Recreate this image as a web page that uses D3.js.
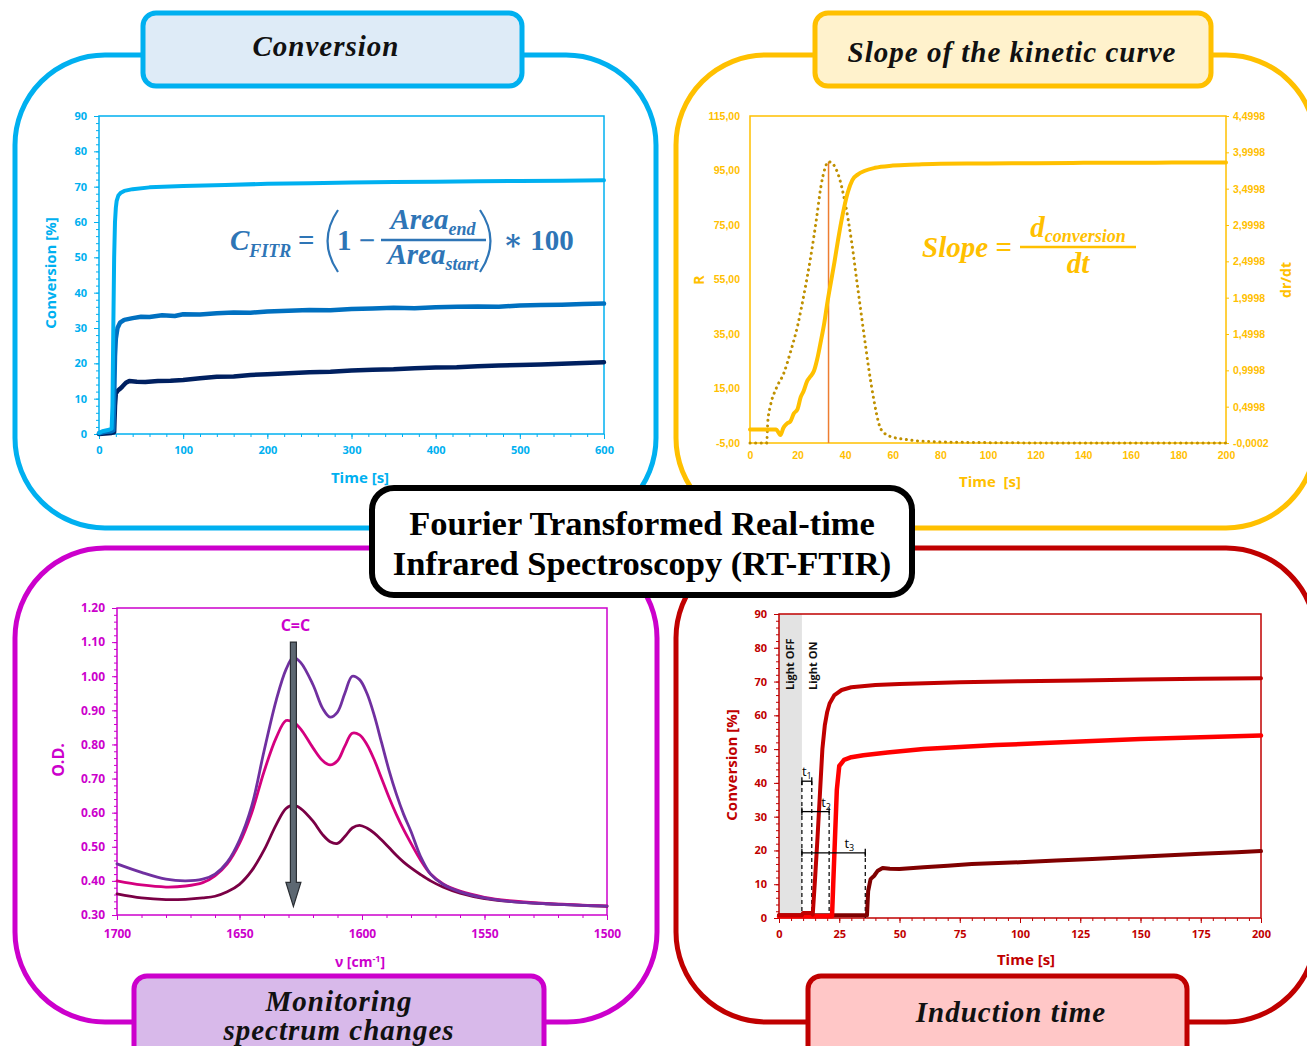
<!DOCTYPE html>
<html>
<head>
<meta charset="utf-8">
<script src="https://cdn.jsdelivr.net/npm/d3@7"></script>
<style>
  body { margin: 0; background: #fff; }
  svg { display: block; }
</style>
</head>
<body>
<div id="chart"></div>
<script>
// ---------- values ----------

// Conversion panel: [time s, conversion %]
var convHigh = [[0,0.3],[4,0.8],[8,1],[12,1.2],[15,1.5],[16,8],[17,30],[18,50],[19,60],[20,64],[21,66],[23,67.5],[26,68.3],[30,68.8],[40,69.3],[60,69.8],[100,70.2],[150,70.5],[200,70.8],[250,71],[300,71.2],[350,71.3],[400,71.4],[450,71.5],[500,71.6],[550,71.7],[600,71.8]];
var convMid = [[0,0.2],[8,0.6],[15,0.8],[17,1],[18,10],[19,22],[20,27],[22,30],[25,31.5],[30,32.3],[40,32.8],[50,33.2],[60,33.1],[75,33.6],[90,33.4],[100,33.9],[120,33.8],[140,34.2],[160,34.4],[180,34.3],[200,34.7],[225,34.9],[250,35.1],[275,35],[300,35.4],[325,35.5],[350,35.7],[375,35.6],[400,35.9],[425,36],[450,36.1],[475,36],[500,36.4],[525,36.5],[550,36.6],[575,36.8],[600,36.9]];
var convLow = [[0,0],[15,0.3],[18,0.5],[19,8],[20,11.5],[22,12.2],[25,12.8],[28,13.5],[32,14.5],[36,15],[45,14.8],[55,14.7],[70,15],[85,15.1],[100,15.3],[120,15.8],[140,16.2],[160,16.3],[180,16.7],[200,16.9],[225,17.2],[250,17.5],[275,17.6],[300,18],[325,18.2],[350,18.3],[375,18.6],[400,18.8],[425,18.9],[450,19.2],[475,19.4],[500,19.5],[525,19.7],[550,19.9],[575,20.1],[600,20.3]];
var convXTicks = [0,100,200,300,400,500,600];
var convYTicks = [0,10,20,30,40,50,60,70,80,90];

// Slope panel: [time s, R] and [time s, dr/dt]
var slopeR = [[0,0],[11,0],[12,-1.2],[12.8,-2.1],[14,0.5],[15.6,2.2],[17,3],[18.4,5.8],[20,7.5],[21.3,11.8],[22.5,14],[24.1,17.9],[25.5,19.5],[26.9,21.5],[28.3,26],[29.8,32.5],[31.2,39],[32.6,47],[34,54],[35.5,61.5],[36.9,69],[38.3,76],[39.7,82],[41.1,87],[43,91.5],[45.4,93.6],[48,94.8],[52.5,96],[60,96.8],[70,97.2],[80,97.5],[100,97.6],[120,97.7],[140,97.8],[160,97.8],[180,97.9],[200,97.9]];
var slopeRate = [[0,0],[7,0],[7.5,0.3],[8.5,0.5],[11,0.75],[14.2,0.96],[17,1.25],[19.9,1.6],[23,2.1],[25.5,2.56],[28,3.1],[29.8,3.53],[31.5,3.78],[32.9,3.87],[34.5,3.85],[36.9,3.71],[40,3.3],[42.6,2.79],[45,2.2],[48.2,1.42],[50,1.0],[52,0.6],[54.6,0.22],[57,0.12],[60,0.08],[65,0.05],[70,0.03],[80,0.015],[100,0.005],[130,0],[200,0]];
var slopePeakTime = 33;
var slopeXTicks = [0,20,40,60,80,100,120,140,160,180,200];
var slopeYTicks = [-5,15,35,55,75,95,115];
var slopeY2Ticks = [-0.0002,0.4998,0.9998,1.4998,1.9998,2.4998,2.9998,3.4998,3.9998,4.4998];

// Spectrum panel: wavenumber [cm-1] and optical density of three spectra
var specNu = [1700,1690,1680,1672,1665,1660,1655,1650,1645,1640,1635,1631,1628,1625,1620,1616,1613,1610,1607,1604,1601,1598,1595,1592,1589,1586,1583,1580,1576,1572,1567,1560,1550,1540,1525,1510,1500];
var specA = [.450,.425,.405,.400,.405,.420,.455,.520,.620,.780,.930,1.020,1.055,1.040,.975,.905,.880,.895,.950,1.000,.990,.950,.885,.805,.725,.655,.595,.545,.470,.420,.390,.368,.350,.340,.333,.328,.326];
var specB = [.400,.388,.382,.385,.395,.415,.450,.510,.600,.720,.820,.870,.865,.845,.790,.752,.740,.752,.795,.833,.828,.800,.755,.700,.645,.595,.550,.510,.460,.420,.392,.370,.352,.342,.334,.329,.327];
var specC = [.362,.350,.345,.346,.350,.355,.368,.390,.430,.490,.565,.612,.622,.612,.575,.535,.515,.510,.530,.555,.563,.555,.540,.520,.498,.475,.455,.438,.418,.400,.382,.364,.348,.340,.333,.328,.325];
var specXTicks = [1700,1650,1600,1550,1500];
var specYTicks = [0.30,0.40,0.50,0.60,0.70,0.80,0.90,1.00,1.10,1.20];
var specArrowNu = 1628;
var specArrowOD = [1.10, 0.325];

// Induction time panel: [time s, conversion %]
var indFast = [[0,0.8],[9.5,0.8],[10,1.5],[13.5,1.5],[14,1],[15,12],[16,24],[17,37],[18,50],[19,57],[20,61],[21,63.5],[23,66],[26,67.5],[30,68.3],[40,69],[50,69.3],[75,69.8],[100,70.1],[125,70.3],[150,70.6],[175,70.8],[200,71]];
var indMid = [[0,0.5],[13,0.5],[22,0.5],[22.5,10],[23.3,25],[24,38],[25,45],[27,46.8],[30,47.6],[35,48.2],[45,49],[60,50],[75,50.6],[90,51.2],[110,51.8],[130,52.4],[150,53],[175,53.5],[200,54]];
var indSlow = [[0,0.8],[36.5,0.8],[37,8],[38,11.5],[39.5,12.5],[41,14],[43,14.8],[46,14.6],[50,14.5],[60,15],[70,15.5],[80,16],[100,16.5],[115,17],[130,17.5],[145,18],[160,18.5],[175,19],[190,19.5],[200,19.8]];
var indLightOff = 9.5;
var indMarks = [{name:"1", end:13.6, level:40.5}, {name:"2", end:20.8, level:31.5}, {name:"3", end:35.8, level:19.3}];
var indXTicks = [0,25,50,75,100,125,150,175,200];
var indYTicks = [0,10,20,30,40,50,60,70,80,90];

// ---------- drawing ----------
var W = 1307, H = 1046;
var BLUE = "#00b0f0", GOLD = "#ffc000", MAG = "#cc00cc", RED = "#c00000";
var SANS = "'Open Sans', 'Liberation Sans', sans-serif";
var SERIF = "'Liberation Serif', 'DejaVu Serif', serif";

var svg = d3.select("#chart").append("svg").attr("width", W).attr("height", H);

function frame(x, y, w, h, color) {
  svg.append("rect").attr("x", x).attr("y", y).attr("width", w).attr("height", h)
    .attr("rx", 90).attr("ry", 90).attr("fill", "none")
    .attr("stroke", color).attr("stroke-width", 5);
}
frame(15, 55, 641, 473, BLUE);
frame(676, 55, 640, 473, GOLD);
frame(15, 548, 642, 474, MAG);
frame(676, 548, 640, 474, RED);

function drawAxis(axis, translate, color, fs, font) {
  var a = svg.append("g").attr("transform", translate).call(axis);
  a.select(".domain").remove();
  a.selectAll(".tick line").attr("stroke", color);
  a.selectAll(".tick text").attr("fill", color).style("font-family", font || SANS)
    .style("font-weight", 700).style("font-size", fs + "px");
  return a;
}

function plotBox(x, y, color) {
  var xr = x.range(), yr = y.range();
  svg.append("rect").attr("x", Math.min(xr[0], xr[1])).attr("y", Math.min(yr[0], yr[1]))
    .attr("width", Math.abs(xr[1] - xr[0])).attr("height", Math.abs(yr[1] - yr[0]))
    .attr("fill", "none").attr("stroke", color).attr("stroke-width", 1.5);
}

function drawLine(data, x, y, color, width, curve) {
  return svg.append("path").datum(data)
    .attr("fill", "none").attr("stroke", color).attr("stroke-width", width)
    .attr("stroke-linejoin", "round").attr("stroke-linecap", "round")
    .attr("d", d3.line().x(function(d) { return x(d[0]); }).y(function(d) { return y(d[1]); })
      .curve(curve || d3.curveLinear));
}

function label(x, y, txt, color, fs, rot) {
  var t = svg.append("text").attr("x", x).attr("y", y).attr("fill", color)
    .attr("text-anchor", "middle").style("font-family", SANS).style("font-weight", 700)
    .style("font-size", fs + "px").text(txt);
  if (rot) t.attr("transform", "rotate(-90," + x + "," + y + ")");
  return t;
}

// tall thin bracket drawn as a curve, open side given by dir (+1 = "(", -1 = ")")
function paren(g, x, y0, y1, dir, color) {
  var bulge = 11 * dir;
  g.append("path")
    .attr("d", "M" + (x + bulge) + "," + y0 + "Q" + (x - bulge * 0.9) + "," + ((y0 + y1) / 2) + " " + (x + bulge) + "," + y1)
    .attr("fill", "none").attr("stroke", color).attr("stroke-width", 2.2);
}

// ===== Conversion (top-left) =====
var xC = d3.scaleLinear().domain([0, 600]).range([99, 604]);
var yC = d3.scaleLinear().domain([0, 90]).range([434, 116]);
drawAxis(d3.axisLeft(yC).tickValues(d3.range(0, 91, 2)).tickSize(3).tickFormat(""), "translate(99,0)", BLUE, 11);
drawAxis(d3.axisBottom(xC).tickValues(d3.range(0, 601, 20)).tickSize(3).tickFormat(""), "translate(0,434)", BLUE, 11);
drawAxis(d3.axisLeft(yC).tickValues(convYTicks).tickSize(5).tickPadding(7), "translate(99,0)", BLUE, 11);
drawAxis(d3.axisBottom(xC).tickValues(convXTicks).tickSize(5).tickPadding(7), "translate(0,434)", BLUE, 11);
plotBox(xC, yC, BLUE);
drawLine(convLow, xC, yC, "#002060", 4.5);
drawLine(convMid, xC, yC, "#0070c0", 4.5);
drawLine(convHigh, xC, yC, BLUE, 4);
label(56, 273, "Conversion [%]", BLUE, 15, true);
label(360, 483, "Time [s]", BLUE, 15);

var FBLUE = "#2e75b6";
var f1 = svg.append("g").attr("fill", FBLUE).style("font-family", SERIF).style("font-weight", 700);
var c1 = f1.append("text").attr("x", 230).attr("y", 250).style("font-size", "29px").style("font-style", "italic").text("C");
c1.append("tspan").attr("dy", 7).style("font-size", "18px").text("FITR");
f1.append("text").attr("x", 298).attr("y", 250).style("font-size", "29px").text("=");
paren(f1, 327, 210, 272, 1, FBLUE);
f1.append("text").attr("x", 337).attr("y", 250).style("font-size", "29px").text("1 \u2212");
f1.append("line").attr("x1", 381).attr("x2", 486).attr("y1", 240).attr("y2", 240).attr("stroke", FBLUE).attr("stroke-width", 2.5);
var an = f1.append("text").attr("x", 433).attr("y", 229).attr("text-anchor", "middle").style("font-size", "29px").style("font-style", "italic").text("Area");
an.append("tspan").attr("dy", 6).style("font-size", "18px").text("end");
var as = f1.append("text").attr("x", 433).attr("y", 264).attr("text-anchor", "middle").style("font-size", "29px").style("font-style", "italic").text("Area");
as.append("tspan").attr("dy", 6).style("font-size", "18px").text("start");
paren(f1, 491, 210, 272, -1, FBLUE);
f1.append("text").attr("x", 503).attr("y", 250).style("font-size", "29px").text("\u2217 100");

// ===== Slope of the kinetic curve (top-right) =====
var xS = d3.scaleLinear().domain([0, 200]).range([750, 1226]);
var yS = d3.scaleLinear().domain([-5, 115]).range([443, 116]);
var yS2 = d3.scaleLinear().domain([-0.0002, 4.4998]).range([443, 116]);
var comma = function(n) { return function(d) { return d.toFixed(n).replace(".", ","); }; };
var NARROW = "'Liberation Sans Narrow', 'Liberation Sans', sans-serif";
drawAxis(d3.axisLeft(yS).tickValues(slopeYTicks).tickSize(0).tickPadding(10).tickFormat(comma(2)), "translate(750,0)", GOLD, 10.5, NARROW);
drawAxis(d3.axisRight(yS2).tickValues(slopeY2Ticks).tickSize(3).tickPadding(4).tickFormat(comma(4)), "translate(1226,0)", GOLD, 10.5, NARROW);
drawAxis(d3.axisBottom(xS).tickValues(slopeXTicks).tickSize(0).tickPadding(9), "translate(0,443)", GOLD, 10.5, NARROW);
plotBox(xS, yS, GOLD);
svg.append("line").attr("x1", xS(slopePeakTime)).attr("x2", xS(slopePeakTime))
  .attr("y1", yS(-5)).attr("y2", yS2(d3.max(slopeRate, function(d) { return d[1]; })))
  .attr("stroke", "#ed7d31").attr("stroke-width", 1.5);
drawLine(slopeRate, xS, yS2, "#bf9000", 3, d3.curveMonotoneX).attr("stroke-dasharray", "0.1 5.5");
drawLine(slopeR, xS, yS, GOLD, 4, d3.curveMonotoneX);
label(704, 280, "R", GOLD, 14, true);
label(1291, 280, "dr/dt", GOLD, 14, true);
label(990, 487, "Time  [s]", GOLD, 15).style("white-space", "pre");

var f2 = svg.append("g").attr("fill", GOLD).style("font-family", SERIF).style("font-weight", 700).style("font-style", "italic");
f2.append("text").attr("x", 922).attr("y", 257).style("font-size", "29px").text("Slope =");
f2.append("line").attr("x1", 1020).attr("x2", 1136).attr("y1", 247).attr("y2", 247).attr("stroke", GOLD).attr("stroke-width", 2.5);
var dc = f2.append("text").attr("x", 1078).attr("y", 237).attr("text-anchor", "middle").style("font-size", "29px").text("d");
dc.append("tspan").attr("dy", 5).style("font-size", "18px").text("conversion");
f2.append("text").attr("x", 1078).attr("y", 273).attr("text-anchor", "middle").style("font-size", "29px").text("dt");

// ===== Monitoring spectrum changes (bottom-left) =====
var xP = d3.scaleLinear().domain([1700, 1500]).range([117, 607]);
var yP = d3.scaleLinear().domain([0.30, 1.20]).range([915, 608]);
drawAxis(d3.axisLeft(yP).tickValues(d3.range(30, 121, 2).map(function(v) { return v / 100; })).tickSize(3).tickFormat(""), "translate(117,0)", MAG, 12);
drawAxis(d3.axisBottom(xP).tickValues(d3.range(1500, 1701, 10)).tickSize(3).tickFormat(""), "translate(0,915)", MAG, 12);
drawAxis(d3.axisLeft(yP).tickValues(specYTicks).tickSize(5).tickPadding(7).tickFormat(d3.format(".2f")), "translate(117,0)", MAG, 12);
drawAxis(d3.axisBottom(xP).tickValues(specXTicks).tickSize(5).tickPadding(9).tickFormat(d3.format("d")), "translate(0,915)", MAG, 12);
plotBox(xP, yP, MAG);
drawLine(d3.zip(specNu, specC), xP, yP, "#7a0045", 2.8, d3.curveCatmullRom);
drawLine(d3.zip(specNu, specB), xP, yP, "#d4007f", 2.8, d3.curveCatmullRom);
drawLine(d3.zip(specNu, specA), xP, yP, "#7030a0", 2.8, d3.curveCatmullRom);

var ax = xP(specArrowNu), ay0 = yP(specArrowOD[0]), ay1 = yP(specArrowOD[1]);
svg.append("path")
  .attr("d", "M" + (ax - 3) + "," + ay0 + "L" + (ax + 3) + "," + ay0 + "L" + (ax + 3) + "," + (ay1 - 24) +
    "L" + (ax + 7.5) + "," + (ay1 - 24) + "L" + ax + "," + ay1 + "L" + (ax - 7.5) + "," + (ay1 - 24) +
    "L" + (ax - 3) + "," + (ay1 - 24) + "Z")
  .attr("fill", "#5d6872").attr("stroke", "#2a2e33").attr("stroke-width", 1.2);
label(ax + 2, 631, "C=C", MAG, 16);
label(64, 760, "O.D.", MAG, 16, true);
var nuLab = label(360, 967, "\u03bd [cm", MAG, 14);
nuLab.append("tspan").attr("dy", -5).style("font-size", "9px").text("-1");
nuLab.append("tspan").attr("dy", 5).text("]");

// ===== Induction time (bottom-right) =====
var xI = d3.scaleLinear().domain([0, 200]).range([779, 1261]);
var yI = d3.scaleLinear().domain([0, 90]).range([918, 614]);
svg.append("rect").attr("x", xI(0)).attr("y", yI(90)).attr("width", xI(indLightOff) - xI(0))
  .attr("height", yI(0) - yI(90)).attr("fill", "#e3e3e3");
drawAxis(d3.axisLeft(yI).tickValues(d3.range(0, 91, 2)).tickSize(3).tickFormat(""), "translate(779,0)", RED, 11);
drawAxis(d3.axisBottom(xI).tickValues(d3.range(0, 201, 5)).tickSize(3).tickFormat(""), "translate(0,918)", RED, 11);
drawAxis(d3.axisLeft(yI).tickValues(indYTicks).tickSize(5).tickPadding(7), "translate(779,0)", RED, 11);
drawAxis(d3.axisBottom(xI).tickValues(indXTicks).tickSize(5).tickPadding(7), "translate(0,918)", RED, 11);
plotBox(xI, yI, RED);

var topLevel = d3.max(indMarks, function(m) { return m.level; });
svg.append("line").attr("x1", xI(indLightOff)).attr("x2", xI(indLightOff))
  .attr("y1", yI(0)).attr("y2", yI(topLevel))
  .attr("stroke", "#000").attr("stroke-width", 1.2).attr("stroke-dasharray", "4,3");
indMarks.forEach(function(m) {
  svg.append("line").attr("x1", xI(m.end)).attr("x2", xI(m.end)).attr("y1", yI(0)).attr("y2", yI(m.level))
    .attr("stroke", "#000").attr("stroke-width", 1.2).attr("stroke-dasharray", "4,3");
});

drawLine(indSlow, xI, yI, "#800000", 4);
drawLine(indMid, xI, yI, "#ff0000", 4.5);
drawLine(indFast, xI, yI, RED, 4);

var labelShift = [-5, -3, -16];
indMarks.forEach(function(m, i) {
  var yy = yI(m.level), x0 = xI(indLightOff), x1 = xI(m.end);
  svg.append("line").attr("x1", x0).attr("x2", x1).attr("y1", yy).attr("y2", yy).attr("stroke", "#000").attr("stroke-width", 1.3);
  [x0, x1].forEach(function(xx) {
    svg.append("line").attr("x1", xx).attr("x2", xx).attr("y1", yy - 4).attr("y2", yy + 4).attr("stroke", "#000").attr("stroke-width", 1.3);
  });
  var t = svg.append("text").attr("x", x1 + labelShift[i]).attr("y", yy - 5).attr("text-anchor", "middle")
    .style("font-family", SANS).style("font-size", "13px").style("fill", "#000").text("t");
  t.append("tspan").attr("dy", 3).style("font-size", "9px").style("fill", "#000").text(m.name);
});

[["Light OFF", (xI(0) + xI(indLightOff)) / 2 + 4], ["Light ON", xI(indLightOff) + 15]].forEach(function(p) {
  svg.append("text").attr("x", p[1]).attr("y", 690).attr("transform", "rotate(-90," + p[1] + ",690)")
    .style("font-family", SANS).style("font-weight", 700).style("font-size", "11px").attr("fill", "#111").text(p[0]);
});
label(737, 765, "Conversion [%]", RED, 15, true);
label(1026, 965, "Time [s]", RED, 15);

// ===== title boxes =====
function titleBox(x, y, w, h, stroke, fill, lines, cx, baselines) {
  svg.append("rect").attr("x", x).attr("y", y).attr("width", w).attr("height", h)
    .attr("rx", 13).attr("ry", 13).attr("fill", fill).attr("stroke", stroke).attr("stroke-width", 5);
  lines.forEach(function(s, i) {
    svg.append("text").attr("x", cx).attr("y", baselines[i]).attr("text-anchor", "middle")
      .style("font-family", SERIF).style("font-style", "italic").style("font-weight", 700)
      .style("font-size", "29px").style("letter-spacing", "1px").attr("fill", "#111").text(s);
  });
}
titleBox(143, 13, 379, 73, BLUE, "#deebf7", ["Conversion"], 326, [56]);
titleBox(815, 13, 396, 73, GOLD, "#fff2cc", ["Slope of the kinetic curve"], 1012, [62]);
titleBox(134, 976, 410, 90, MAG, "#d8b9ea", ["Monitoring", "spectrum changes"], 339, [1011, 1040]);
titleBox(808, 976, 379, 90, RED, "#ffc7c7", ["Induction time"], 1011, [1022]);

// ===== centre box =====
svg.append("rect").attr("x", 372).attr("y", 488).attr("width", 540).attr("height", 107)
  .attr("rx", 22).attr("ry", 22).attr("fill", "#fff").attr("stroke", "#000").attr("stroke-width", 6);
["Fourier Transformed Real-time", "Infrared Spectroscopy (RT-FTIR)"].forEach(function(s, i) {
  svg.append("text").attr("x", 642).attr("y", 535 + i * 40).attr("text-anchor", "middle")
    .style("font-family", SERIF).style("font-weight", 700).style("font-size", "34.5px").attr("fill", "#000").text(s);
});
</script>
</body>
</html>
